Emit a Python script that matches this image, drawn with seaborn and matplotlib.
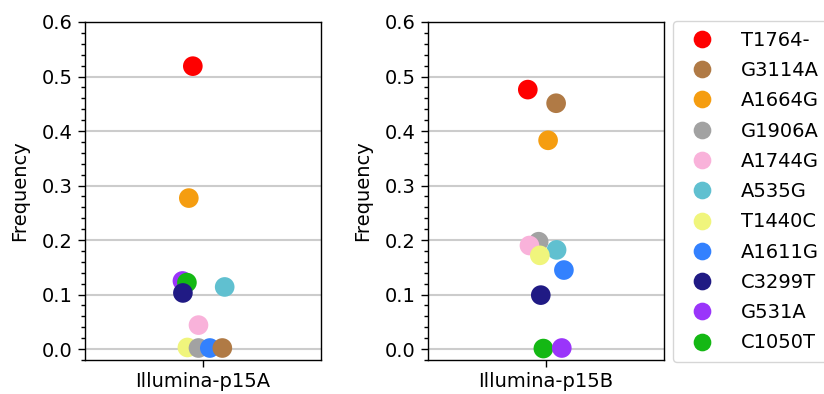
import matplotlib
matplotlib.use('Agg')
import matplotlib.pyplot as plt
import pandas as pd
import seaborn as sns
from matplotlib.ticker import MultipleLocator

# Variants in legend order, with colours
variants = ['T1764-', 'G3114A', 'A1664G', 'G1906A', 'A1744G', 'A535G',
            'T1440C', 'A1611G', 'C3299T', 'G531A', 'C1050T']
colors = ['#fe0000', '#b07a45', '#f59d10', '#a2a2a2', '#f9b2da', '#60c0d0',
          '#f0f57c', '#3381fe', '#201a84', '#9a35fa', '#14b814']

# Illumina-p15A (drawing order = frequency descending), offsets
p15a_variant = ['T1764-', 'A1664G', 'G531A', 'C1050T', 'A535G', 'C3299T',
                'A1744G', 'T1440C', 'G1906A', 'A1611G', 'G3114A']
p15a_freq = [0.519, 0.277, 0.125, 0.122, 0.114, 0.103, 0.044,
             0.003, 0.002, 0.002, 0.002]
p15a_offset = [-0.041, -0.058, -0.085, -0.066, 0.094, -0.083, -0.017,
               -0.064, -0.017, 0.031, 0.084]

# Illumina-p15B
p15b_variant = ['T1764-', 'G3114A', 'A1664G', 'G1906A', 'A1744G', 'A535G',
                'T1440C', 'A1611G', 'C3299T', 'C1050T', 'G531A']
p15b_freq = [0.476, 0.451, 0.383, 0.197, 0.190, 0.182, 0.172, 0.145,
             0.099, 0.001, 0.002]
p15b_offset = [-0.075, 0.045, 0.011, -0.029, -0.068, 0.047, -0.024,
               0.078, -0.020, -0.009, 0.069]

samples = ['Illumina-p15A', 'Illumina-p15B']
df_a = pd.DataFrame({'variant': p15a_variant, 'freq': p15a_freq, 'x': p15a_offset})
df_b = pd.DataFrame({'variant': p15b_variant, 'freq': p15b_freq, 'x': p15b_offset})

sns.set_style('ticks')
plt.rcParams['font.family'] = ['DejaVu Sans']
plt.rcParams.update({'text.color': 'black', 'axes.labelcolor': 'black',
                     'xtick.color': 'black', 'ytick.color': 'black'})
palette = dict(zip(variants, colors))

fig = plt.figure(figsize=(8.24, 3.94), dpi=100)
ax1 = fig.add_axes([84.5 / 824, 1 - 360 / 394, 236 / 824, 338 / 394])
ax2 = fig.add_axes([427.5 / 824, 1 - 360 / 394, 236 / 824, 338 / 394])

for ax, d, name in zip([ax1, ax2], [df_a, df_b], samples):
    sns.scatterplot(data=d, x='x', y='freq', hue='variant', hue_order=variants,
                    palette=palette, s=200, linewidth=0, ax=ax, legend=(ax is ax2),
                    zorder=3)
    ax.set_xlim(-0.5, 0.5)
    ax.set_ylim(-0.02, 0.6)
    ax.set_xticks([0])
    ax.set_xticklabels([name], fontsize=14)
    ax.set_xlabel('')
    ax.set_ylabel('Frequency', fontsize=14, labelpad=9)
    ax.yaxis.set_major_locator(MultipleLocator(0.1))
    ax.yaxis.set_minor_locator(MultipleLocator(0.02))
    ax.tick_params(axis='y', labelsize=14, length=5, width=1, color='black')
    ax.tick_params(axis='y', which='minor', length=3, width=1)
    ax.tick_params(axis='x', length=5, width=1)
    ax.grid(axis='y', which='major', color='#cccccc', linewidth=1.5, zorder=0)
    ax.set_axisbelow(True)
    for sp in ax.spines.values():
        sp.set_visible(True)
        sp.set_color('black')
        sp.set_linewidth(1)

handles, labels = ax2.get_legend_handles_labels()
ax2.legend_.remove()
leg = fig.legend(handles, labels, loc='upper left',
                 bbox_to_anchor=(673 / 824, 1 - 21 / 394), fontsize=14,
                 markerscale=0.9, labelspacing=0.58, handletextpad=1.0,
                 borderpad=0.5, borderaxespad=0, frameon=True, fancybox=True)
leg.get_frame().set_edgecolor('#cccccc')

fig.savefig('out.png', dpi=100)
